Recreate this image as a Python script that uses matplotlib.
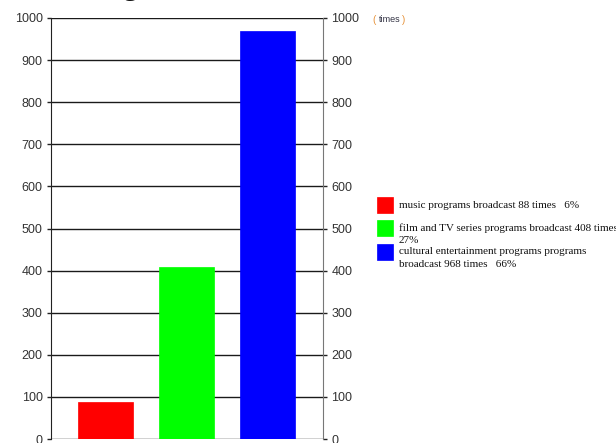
import matplotlib
matplotlib.use("Agg")
import matplotlib.pyplot as plt
from matplotlib.patches import Rectangle

categories = ["music programs", "film and TV series programs", "cultural entertainment programs programs"]
values = [88, 408, 968]
percents = ["6%", "27%", "66%"]
colors = ["#ff0000", "#00ff00", "#0000ff"]
legend_labels = [
    "music programs broadcast 88 times   6%",
    "film and TV series programs broadcast 408 times\n27%",
    "cultural entertainment programs programs\nbroadcast 968 times   66%",
]
yticks = [0, 100, 200, 300, 400, 500, 600, 700, 800, 900, 1000]

W, H = 616, 443
fig = plt.figure(figsize=(W / 100, H / 100), dpi=100)
ax = fig.add_axes([51 / W, (H - 439) / H, 272 / W, 421 / H])

x = list(range(len(values)))
ax.bar(x, values, width=0.68, color=colors, edgecolor=colors, linewidth=0.5, zorder=3)
ax.set_xlim(-0.673, 2.685)
ax.set_ylim(0, 1000)
ax.set_yticks(yticks)
ax.set_xticks([])
ax.grid(axis="y", color="#1a1a1a", linewidth=1.0, zorder=0)
for s in ["top", "bottom"]:
    ax.spines[s].set_visible(False)
ax.spines["left"].set_color("#222222")
ax.spines["right"].set_color("#777777")
ax.tick_params(axis="y", which="both", direction="out", length=3, width=1,
               color="#222222", labelcolor="#333333", labelsize=9, pad=3,
               left=True, right=True, labelleft=True, labelright=True)
for lab in ax.get_yticklabels():
    lab.set_fontfamily("Liberation Sans")

# unit label
fig.text(372 / W, 1 - 20 / H, "(", color="#e69138", fontsize=7, va="center", ha="left",
         family="Liberation Sans")
fig.text(378.5 / W, 1 - 20 / H, "times", color="#333344", fontsize=6.5, va="center", ha="left",
         family="Liberation Sans")
fig.text(402 / W, 1 - 20 / H, ")", color="#e69138", fontsize=7, va="center", ha="left",
         family="Liberation Sans")

# partially visible title descender
fig.text(123 / W, 1 + 6.5 / H, "g", fontsize=22, family="Liberation Serif", va="baseline",
         ha="left", color="#111111")

# legend
tops = [197, 220, 244]
line_gap = 12.5
for lab, col, t in zip(legend_labels, colors, tops):
    fig.patches.append(Rectangle((377 / W, 1 - (t + 16) / H), 16 / W, 16 / H,
                                 transform=fig.transFigure, facecolor=col,
                                 edgecolor=col, linewidth=0.5))
    for k, line in enumerate(lab.split("\n")):
        yc = t + 8 + k * line_gap
        fig.text(399 / W, 1 - yc / H, line, fontsize=8, family="Liberation Serif",
                 va="center", ha="left", color="#111111")

fig.savefig("out.png", dpi=100)
